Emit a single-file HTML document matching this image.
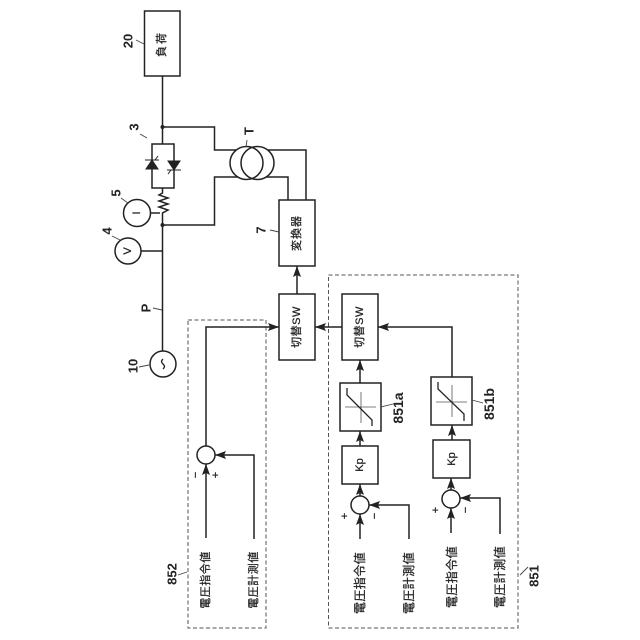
<!DOCTYPE html>
<html><head><meta charset="utf-8">
<style>html,body{margin:0;padding:0;background:#fff}svg{display:block}
text{font-family:"Liberation Sans","Noto Sans CJK JP",sans-serif;fill:#222;text-anchor:middle;dominant-baseline:central}
.b{font-weight:bold;font-size:13px}.t{font-size:11px;stroke:#222;stroke-width:.25px}.u{font-size:12px;stroke:#222;stroke-width:.25px}
</style></head><body>
<svg width="640" height="640" viewBox="0 0 640 640" xmlns="http://www.w3.org/2000/svg">
<defs><marker id="a" markerUnits="userSpaceOnUse" markerWidth="12" markerHeight="10" refX="11" refY="4" orient="auto"><path d="M0 0L11 4L0 8L2 4Z" fill="#222"/></marker></defs>
<g fill="none" stroke="#555" stroke-width="1" stroke-dasharray="4 2.5">
<rect x="188" y="320" width="78" height="308"/>
<rect x="328.500" y="275" width="189.500" height="353"/>
</g>
<g fill="none" stroke="#222" stroke-width="1.500">
<rect x="144.500" y="11" width="35.500" height="65"/>
<path d="M162.500 76V144M162.500 127H214.500V150H236.500M152 144H174V188H152ZM162.500 188V193L159 195L168 198L159 201L168 204L159 207L168 210L162.500 213V351"/>
<path d="M162.500 225H214.500V177H238M266 177H288V200M267.500 150H306V200"/>
<circle cx="246.500" cy="163" r="16.500"/><circle cx="257.500" cy="163" r="16.500"/>
<circle cx="137" cy="213" r="13.500"/><path d="M150.500 213H160"/>
<circle cx="128" cy="251" r="13"/><path d="M141 251H162.500"/>
<circle cx="163" cy="364" r="13"/>
<rect x="279" y="200" width="36" height="66"/>
<rect x="279" y="294" width="36" height="66"/>
<rect x="342" y="294" width="36" height="66"/>
<rect x="340" y="383" width="41" height="48"/>
<rect x="431" y="377" width="41" height="48"/>
<rect x="342" y="446" width="36" height="38"/>
<rect x="433" y="440" width="37" height="38"/>
<circle cx="206" cy="455" r="9"/><circle cx="360" cy="505" r="9"/><circle cx="451" cy="499" r="9"/>
<g marker-end="url(#a)">
<path d="M297 294V266"/><path d="M342 327H315"/><path d="M206 446V327H279"/>
<path d="M360 383V360"/><path d="M452 377V327H378"/>
<path d="M360 446V431"/><path d="M452 440V425"/>
<path d="M360 496V484"/><path d="M451 490V478"/>
<path d="M360 539V514"/><path d="M409 539V505H369"/>
<path d="M451 533V508"/><path d="M500 534V498H460"/>
<path d="M206 538V464"/><path d="M254 539V455H215"/>
</g>
</g>
<!-- thyristors -->
<g fill="#222" stroke="#222" stroke-width="1">
<path d="M146 169H158L152 160Z"/><path d="M145 160H159M155 160L158 156" fill="none"/>
<path d="M168 161H180L174 170Z"/><path d="M167 170H181M171 170L168 174" fill="none"/>
</g>
<circle cx="162.500" cy="127" r="2" fill="#222"/><circle cx="162.500" cy="225" r="2" fill="#222"/>
<!-- sine -->
<path d="M163 359C161 361 161 362 163 364C165 366 165 367 163 369" fill="none" stroke="#222" stroke-width="1.300"/>
<!-- leaders -->
<g fill="none" stroke="#444" stroke-width="0.900">
<path d="M136 40L144 44M140 134L147 138M121 198L128 203M112 236L120 240M153 308L162 310M139 367L149 365M270 230L279 232M247 140L246 147M178 575L187 572M520 575L528 567M393 404L381 407M483 403L472 400"/>
</g>
<!-- rotated labels -->
<g>
<text transform="translate(162,44) rotate(-90)" class="t" letter-spacing="2">負荷</text>
<text transform="translate(297,233) rotate(-90)" class="t" letter-spacing="1">変換器</text>
<text transform="translate(297,327) rotate(-90)" class="t" letter-spacing="0.500">切替SW</text>
<text transform="translate(360,327) rotate(-90)" class="t" letter-spacing="0.500">切替SW</text>
<text transform="translate(360,465) rotate(-90)" class="t">Kp</text>
<text transform="translate(452,459) rotate(-90)" class="t">Kp</text>
<text transform="translate(137,213) rotate(-90)" class="t">I</text>
<text transform="translate(128,251) rotate(-90)" class="t">V</text>
<text transform="translate(206,580) rotate(-90)" class="t" letter-spacing="0.500">電圧指令値</text>
<text transform="translate(254,580) rotate(-90)" class="t" letter-spacing="0.500">電圧計測値</text>
<text transform="translate(360,583) rotate(-90)" class="u" letter-spacing="0.400">電圧指令値</text>
<text transform="translate(409,583) rotate(-90)" class="u" letter-spacing="0.400">電圧計測値</text>
<text transform="translate(452,577) rotate(-90)" class="u" letter-spacing="0.400">電圧指令値</text>
<text transform="translate(500,577) rotate(-90)" class="u" letter-spacing="0.400">電圧計測値</text>
<text transform="translate(196,475) rotate(-90)" class="t">−</text>
<text transform="translate(216,475) rotate(-90)" class="t">+</text>
<text transform="translate(345,516) rotate(-90)" class="t">+</text>
<text transform="translate(375,516) rotate(-90)" class="t">−</text>
<text transform="translate(436,510) rotate(-90)" class="t">+</text>
<text transform="translate(466,510) rotate(-90)" class="t">−</text>
</g>
<text class="b" transform="translate(128,41) rotate(-90)">20</text>
<text class="b" transform="translate(134,127) rotate(-90)">3</text>
<text class="b" transform="translate(116,193) rotate(-90)">5</text>
<text class="b" transform="translate(107,231) rotate(-90)">4</text>
<text class="b" transform="translate(146,308) rotate(-90)">P</text>
<text class="b" transform="translate(133,366) rotate(-90)">10</text>
<text class="b" transform="translate(261,230) rotate(-90)">7</text>
<text class="b" transform="translate(249,131) rotate(-90)">T</text>
<text class="b" transform="translate(398,408) rotate(-90)" style="font-size:14px">851a</text>
<text class="b" transform="translate(489,404) rotate(-90)" style="font-size:14px">851b</text>
<text class="b" transform="translate(172,574) rotate(-90)">852</text>
<text class="b" transform="translate(534,576) rotate(-90)">851</text>
<!-- limiter curves -->
<g fill="none">
<path d="M361 392V423M345 407H376" stroke="#555" stroke-width="0.800"/>
<path d="M347 388V395L372 420V426" stroke="#222" stroke-width="1.300"/>
<path d="M452 385V417M436 402H467" stroke="#555" stroke-width="0.800"/>
<path d="M438 382V389L464 414V421" stroke="#222" stroke-width="1.300"/>
</g>
</svg>
</body></html>
